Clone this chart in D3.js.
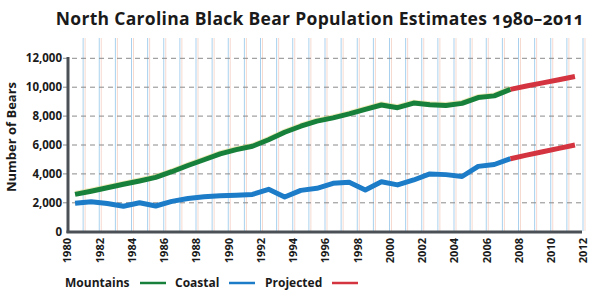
<!DOCTYPE html>
<html lang="en">
<head>
  <meta charset="UTF-8" />
  <title>North Carolina Black Bear Population Estimates 1980–2011</title>
  <script src="https://d3js.org/d3.v7.min.js"></script>
  <style>
    body {
      margin: 0;
      background: white;
      font-family: "Open Sans", sans-serif;
    }
    svg text {
      font-weight: bold;
      fill: #1a1a1a;
    }
    .title {
      font-variant-numeric: oldstyle-nums;
    }
  </style>
</head>
<body>
<svg id="chart" width="589" height="293"></svg>

<script>
// Data
const years = [1980, 1981, 1982, 1983, 1984, 1985, 1986, 1987, 1988, 1989,
  1990, 1991, 1992, 1993, 1994, 1995, 1996, 1997, 1998, 1999,
  2000, 2001, 2002, 2003, 2004, 2005, 2006, 2007];
const mountains = [2580, 2800, 3040, 3280, 3510, 3760, 4150, 4580, 4980, 5390,
  5680, 5910, 6360, 6880, 7300, 7650, 7880, 8150, 8460, 8770,
  8580, 8900, 8790, 8730, 8880, 9280, 9400, 9850];
const coastal = [1970, 2080, 1950, 1760, 2000, 1780, 2100, 2300, 2420, 2480,
  2520, 2580, 2930, 2400, 2860, 3000, 3350, 3430, 2890, 3460,
  3240, 3580, 4000, 3950, 3820, 4520, 4650, 5050];
const projYears = [2007, 2008, 2009, 2010, 2011];
const mountainsProj = [9850, 10080, 10300, 10520, 10740];
const coastalProj = [5050, 5300, 5530, 5770, 6000];
const yTicks = [0, 2000, 4000, 6000, 8000, 10000, 12000];
const xTicks = [1980, 1982, 1984, 1986, 1988, 1990, 1992, 1994, 1996, 1998,
  2000, 2002, 2004, 2006, 2008, 2010, 2012];
const gridYears = [1981, 1982, 1983, 1984, 1985, 1986, 1987, 1988, 1989, 1990,
  1991, 1992, 1993, 1994, 1995, 1996, 1997, 1998, 1999, 2000, 2001, 2002,
  2003, 2004, 2005, 2006, 2007, 2008, 2009, 2010, 2011, 2012];

const green = "#17803a", blue = "#1c7cc7", red = "#d4343f";

const svg = d3.select("#chart");

const x = d3.scaleLinear().domain([1980, 2012]).range([67, 583]);
const y = d3.scaleLinear().domain([0, 12000]).range([231.7, 58.3]);

// title
svg.append("text")
  .attr("class", "title")
  .attr("x", 320).attr("y", 25)
  .attr("text-anchor", "middle")
  .style("font-size", "17.5px")
  .style("letter-spacing", "0.3px")
  .text("North Carolina Black Bear Population Estimates 1980–2011");

// vertical grid (blue with a faint pink twin)
svg.append("g").selectAll("line")
  .data(gridYears)
  .enter().append("line")
  .attr("x1", d => x(d) + 2).attr("x2", d => x(d) + 2)
  .attr("y1", 38).attr("y2", 231)
  .attr("stroke", "#f6d9cf").attr("stroke-width", 1);
svg.append("g").selectAll("line")
  .data(gridYears)
  .enter().append("line")
  .attr("x1", d => x(d)).attr("x2", d => x(d))
  .attr("y1", 38).attr("y2", 231)
  .attr("stroke", "#a9d1ee").attr("stroke-width", 1);

// horizontal dashed grid
svg.append("g").selectAll("line")
  .data(yTicks.filter(d => d > 0))
  .enter().append("line")
  .attr("x1", 63).attr("x2", 582)
  .attr("y1", d => y(d)).attr("y2", d => y(d))
  .attr("stroke", "#8a8a8a").attr("stroke-width", 1)
  .attr("stroke-dasharray", "5,4");

// y axis labels
const yAxis = svg.append("g")
  .attr("transform", "translate(63,0)")
  .call(d3.axisLeft(y).tickValues(yTicks).tickSize(0).tickPadding(1)
    .tickFormat(d3.format(",")));
yAxis.select(".domain").remove();
yAxis.selectAll("text")
  .style("font-size", "11.5px")
  .style("font-family", "'Open Sans', sans-serif");

// x axis labels
const xAxis = svg.append("g")
  .attr("transform", "translate(0,233)")
  .call(d3.axisBottom(x).tickValues(xTicks).tickSize(0).tickFormat(d3.format("d")));
xAxis.select(".domain").remove();
xAxis.selectAll("text")
  .style("font-size", "11px")
  .style("font-family", "'Open Sans', sans-serif")
  .attr("text-anchor", "end")
  .attr("transform", "rotate(-90)")
  .attr("x", -5).attr("y", 0).attr("dy", "0.35em");

// axis lines
svg.append("line")
  .attr("x1", 68).attr("x2", 68).attr("y1", 57).attr("y2", 233)
  .attr("stroke", "#4b5057").attr("stroke-width", 3);
svg.append("line")
  .attr("x1", 66.5).attr("x2", 582).attr("y1", 232).attr("y2", 232)
  .attr("stroke", "#4b5057").attr("stroke-width", 3);

// y axis title
svg.append("text")
  .attr("transform", `translate(16,${y(6000) - 8}) rotate(-90)`)
  .attr("text-anchor", "middle")
  .style("font-size", "13px")
  .text("Number of Bears");

// series
const line = d3.line()
  .x(d => x(d[0] + 0.5))
  .y(d => y(d[1]));

const mountPts = years.map((yr, i) => [yr, mountains[i]]);
const coastPts = years.map((yr, i) => [yr, coastal[i]]);
const mountProjPts = projYears.map((yr, i) => [yr, mountainsProj[i]]);
const coastProjPts = projYears.map((yr, i) => [yr, coastalProj[i]]);

// slight yellow halo above green line
svg.append("path")
  .attr("d", line(mountPts))
  .attr("transform", "translate(0,-1.2)")
  .attr("fill", "none").attr("stroke", "#e6dc8c").attr("stroke-opacity", 0.6)
  .attr("stroke-width", 4.5).attr("stroke-linejoin", "round");

[[mountPts, green], [coastPts, blue], [mountProjPts, red], [coastProjPts, red]]
  .forEach(([pts, col]) => {
    svg.append("path")
      .attr("d", line(pts))
      .attr("fill", "none")
      .attr("stroke", col)
      .attr("stroke-width", 5)
      .attr("stroke-linejoin", "round");
  });

// legend
const legend = [
  { label: "Mountains", color: green, tx: 65, lx: 140 },
  { label: "Coastal", color: blue, tx: 175, lx: 229 },
  { label: "Projected", color: red, tx: 265, lx: 332 }
];
const lg = svg.append("g");
legend.forEach(d => {
  lg.append("text")
    .attr("x", d.tx).attr("y", 287)
    .style("font-size", "12px")
    .text(d.label);
  lg.append("line")
    .attr("x1", d.lx).attr("x2", d.lx + 26)
    .attr("y1", 283).attr("y2", 283)
    .attr("stroke", d.color).attr("stroke-width", 2.5);
});
</script>
</body>
</html>
